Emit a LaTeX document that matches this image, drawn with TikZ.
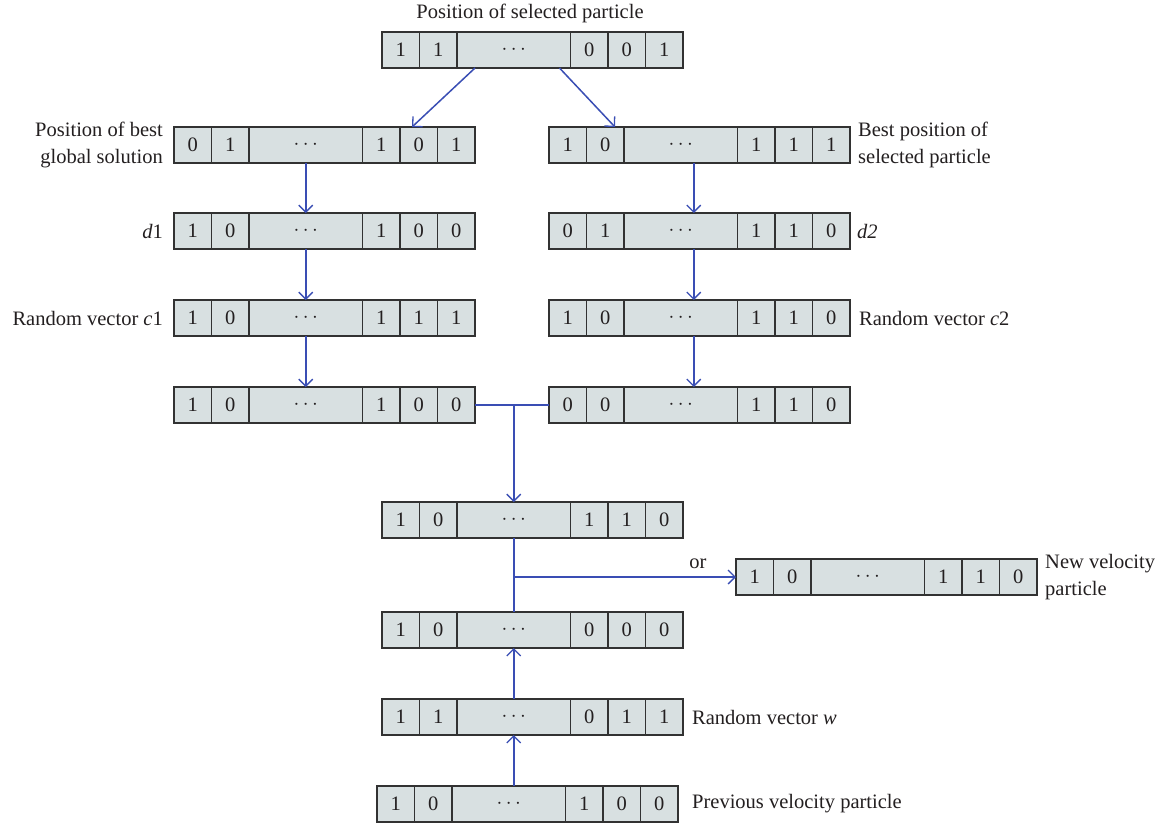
\documentclass[tikz,border=0pt]{standalone}
\usepackage{fontspec}
\setmainfont{Liberation Serif}
\usetikzlibrary{arrows.meta,calc}

\definecolor{cellfill}{RGB}{216,224,225}
\definecolor{cellline}{RGB}{50,50,50}
\definecolor{flow}{RGB}{58,78,180}
\definecolor{ink}{RGB}{35,31,32}

\tikzset{
  cell/.style={draw=cellline, fill=cellfill, line width=1.3pt, outer sep=0pt,
    minimum height=36pt, minimum width=37.5pt, inner sep=0pt, anchor=north west,
    text=ink, font=\fontsize{20.5}{24}\selectfont},
  widecell/.style={cell, minimum width=113.5pt},
  arr/.style={draw=flow, line width=1.5pt,
    -{Straight Barb[length=7pt,width=14pt,line width=1.3pt]}},
  link/.style={draw=flow, line width=1.5pt},
  lbl/.style={font=\fontsize{20.5}{27}\selectfont, inner sep=0pt, text=ink},
}

% a bit vector: name, x, y, then the five visible bits
\newcommand\bitvec[8]{%
  \node[cell] (#1-1) at (#2,#3) {#4};
  \node[cell] (#1-2) at (#1-1.north east) {#5};
  \node[widecell] (#1-3) at (#1-2.north east) {$\cdots$};
  \node[cell] (#1-4) at (#1-3.north east) {#6};
  \node[cell] (#1-5) at (#1-4.north east) {#7};
  \node[cell] (#1-6) at (#1-5.north east) {#8};
}

\begin{document}
\begin{tikzpicture}[x=1pt,y=-1pt]
\useasboundingbox[fill=white] (0,0) rectangle (1163,825);

% vectors
\bitvec{top}{382}{32}{1}{1}{0}{0}{1}
\bitvec{L2}{174}{127}{0}{1}{1}{0}{1}
\bitvec{R2}{549}{127}{1}{0}{1}{1}{1}
\bitvec{L3}{174}{213}{1}{0}{1}{0}{0}
\bitvec{R3}{549}{213}{0}{1}{1}{1}{0}
\bitvec{L4}{174}{300}{1}{0}{1}{1}{1}
\bitvec{R4}{549}{300}{1}{0}{1}{1}{0}
\bitvec{L5}{174}{387}{1}{0}{1}{0}{0}
\bitvec{R5}{549}{387}{0}{0}{1}{1}{0}
\bitvec{M1}{382}{502}{1}{0}{1}{1}{0}
\bitvec{NV}{736}{559}{1}{0}{1}{1}{0}
\bitvec{M2}{382}{612}{1}{0}{0}{0}{0}
\bitvec{W}{382}{699}{1}{1}{0}{1}{1}
\bitvec{P}{377}{786}{1}{0}{1}{0}{0}

% labels
\node[lbl, anchor=base] (t-title) at (530,18) {Position of selected particle};
\node[lbl, anchor=east, align=right] (t-gbest) at ($(L2-1.west)+(-11,0)$) {Position of best\\global solution};
\node[lbl, anchor=west, align=left] (t-pbest) at ($(R2-6.east)+(8,0)$) {Best position of\\selected particle};
\node[lbl, anchor=east] (t-d1) at ($(L3-1.west)+(-11,0)$) {\textit{d}1};
\node[lbl, anchor=west] (t-d2) at ($(R3-6.east)+(7,0)$) {\textit{d2}};
\node[lbl, anchor=east] (t-c1) at ($(L4-1.west)+(-11,0)$) {Random vector \textit{c}1};
\node[lbl, anchor=west] (t-c2) at ($(R4-6.east)+(9,0)$) {Random vector \textit{c}2};
\node[lbl, anchor=west, align=left] (t-nv) at ($(NV-6.east)+(8,0)$) {New velocity\\particle};
\node[lbl, anchor=west] (t-w) at ($(W-6.east)+(9,0)$) {Random vector \textit{w}};
\node[lbl, anchor=west] (t-prev) at ($(P-6.east)+(14,0)$) {Previous velocity particle};
\node[lbl, anchor=base] (t-or) at (698,568) {or};

% connectors
\draw[arr] ($(top-3.south west)+(18,0)$) -- ($(L2-5.north west)+(12,0)$);
\draw[arr] ($(top-3.south east)+(-11,0)$) -- ($(R2-2.north east)+(-9,0)$);

\draw[arr] (L2-3.south) -- (L3-3.north);
\draw[arr] (L3-3.south) -- (L4-3.north);
\draw[arr] (L4-3.south) -- (L5-3.north);

\draw[arr] ([xshift=13pt]R2-3.south) -- ([xshift=13pt]R3-3.north);
\draw[arr] ([xshift=13pt]R3-3.south) -- ([xshift=13pt]R4-3.north);
\draw[arr] ([xshift=13pt]R4-3.south) -- ([xshift=13pt]R5-3.north);

\coordinate (join) at (M1-3.north |- L5-6.east);
\draw[link] (L5-6.east) -- (R5-1.west);
\draw[arr] (join) -- (M1-3.north);

\draw[link] (M1-3.south) -- (M2-3.north);
\coordinate (fork) at (M1-3.south |- NV-1.west);
\draw[arr] (fork) -- (NV-1.west);

\draw[arr] (W-3.north) -- (M2-3.south);
\draw[arr] (W-3.south |- P-3.north) -- (W-3.south);
\end{tikzpicture}
\end{document}
